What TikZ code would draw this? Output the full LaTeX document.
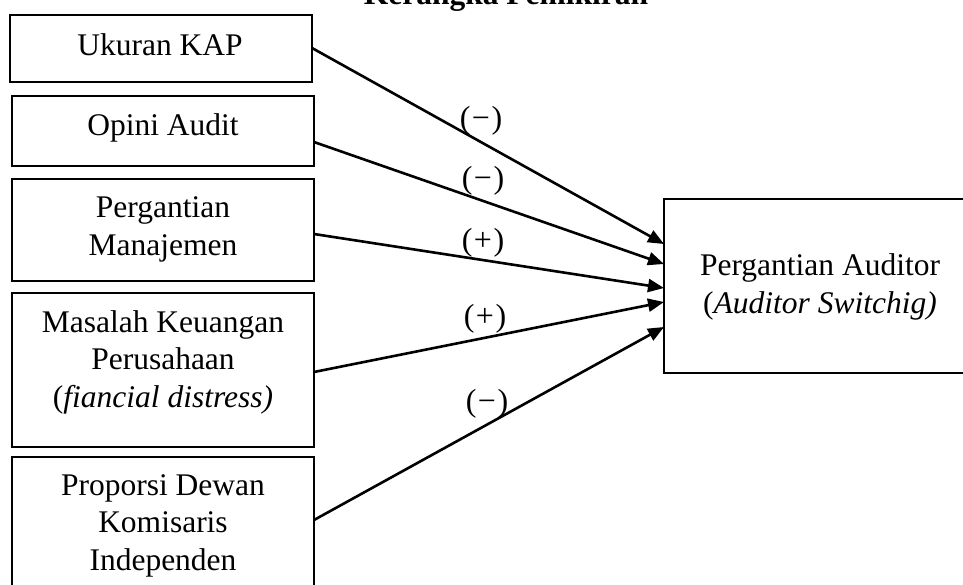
\documentclass[tikz,border=0pt]{standalone}
\usepackage{fontspec}
\setmainfont{Liberation Serif}
\usetikzlibrary{arrows.meta,calc}
\begin{document}
\begin{tikzpicture}[x=1pt,y=-1pt,
  box/.style={draw,line width=2.2pt,inner sep=0pt,outer sep=0pt},
  txt/.style={font=\fontsize{31.5}{37.5}\selectfont,align=center,inner sep=0pt,anchor=base},
  lab/.style={font=\fontsize{32}{36}\selectfont,inner sep=0pt},
  arr/.style={line width=2.6pt,-{Triangle[length=16pt,width=13pt]}}]
\useasboundingbox (0,0) rectangle (963,584);
% title (cut off at top)
\node[font=\bfseries\fontsize{31.5}{37.5}\selectfont,anchor=base,inner sep=0pt] (title) at (506,4) {Kerangka Pemikiran};
% boxes
\node[box,minimum width=302pt,minimum height=67pt] (b1) at (161,48.5) {};
\node[box,minimum width=302pt,minimum height=70pt] (b2) at (163,131) {};
\node[box,minimum width=302pt,minimum height=102pt] (b3) at (163,230) {};
\node[box,minimum width=302pt,minimum height=154pt] (b4) at (163,370) {};
\node[box,minimum width=302pt,minimum height=143pt] (b5) at (163,528.5) {};
\node[box,minimum width=312pt,minimum height=174pt] (t) at (820,286) {};
% texts (base anchor = last line's baseline)
\node[txt] (x1) at (160,55) {Ukuran KAP};
\node[txt] (x2) at (163,135) {Opini Audit};
\node[txt] (x3) at (163,255) {Pergantian\\Manajemen};
\node[txt] (x4) at (163,407) {Masalah Keuangan\\Perusahaan\\(\textit{fiancial distress)}};
\node[txt] (x5) at (163,570) {Proporsi Dewan\\Komisaris\\Independen};
\node[txt] (xt) at (820,313) {Pergantian Auditor\\(\textit{Auditor Switchig)}};
% arrows
\draw[arr] ($(b1.east)+(0,-0.5)$) -- ($(t.west)+(0,-42)$);
\draw[arr] ($(b2.east)+(0,11)$) -- ($(t.west)+(0,-22)$);
\draw[arr] ($(b3.east)+(0,4)$) -- ($(t.west)+(0,2)$);
\draw[arr] ($(b4.east)+(0,2)$) -- ($(t.west)+(0,16)$);
\draw[arr] ($(b5.east)+(0,-8.5)$) -- ($(t.west)+(0,41)$);
% labels
\node[lab] (l1) at (481,121) {(\kern1.5pt−\kern1.5pt)};
\node[lab] (l2) at (483,181) {(\kern1.5pt−\kern1.5pt)};
\node[lab] (l3) at (483,243) {(\kern1.5pt+\kern1.5pt)};
\node[lab] (l4) at (485,319) {(\kern1.5pt+\kern1.5pt)};
\node[lab] (l5) at (487,404) {(\kern1.5pt−\kern1.5pt)};
\end{tikzpicture}
\end{document}
